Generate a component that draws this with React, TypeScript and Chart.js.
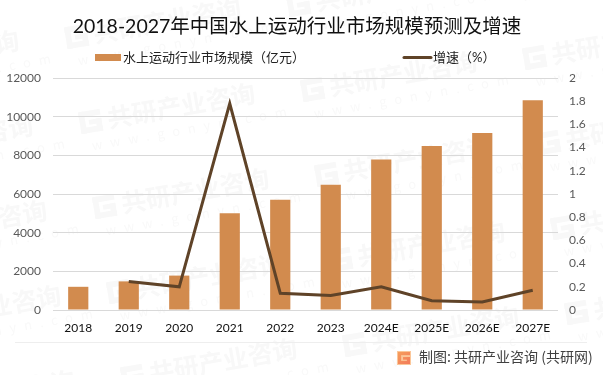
import React, { useEffect, useRef } from "react";
import { Chart, registerables } from "chart.js";

Chart.register(...registerables);

const TITLE = "2018-2027年中国水上运动行业市场规模预测及增速";
const SOURCE = "制图: 共研产业咨询 (共研网)";
const categories = ["2018", "2019", "2020", "2021", "2022", "2023", "2024E", "2025E", "2026E", "2027E"];
const marketSize = [1200, 1480, 1780, 5000, 5700, 6480, 7780, 8480, 9150, 10850];
const growth = [null, 0.245, 0.2, 1.78, 0.145, 0.125, 0.2, 0.08, 0.07, 0.17];
const FONT = "Lato, 'Noto Sans CJK SC', sans-serif";
const CJK = "'Noto Sans CJK SC', sans-serif";
const BAR = "#D28B4E";
const LINE = "#5F4328";

function logoPath(ctx: CanvasRenderingContext2D, x: number, y: number, s: number, color: string | CanvasGradient) {
  ctx.fillStyle = color;
  ctx.fillRect(x, y, s, s * 0.26);
  ctx.fillRect(x, y, s * 0.26, s);
  ctx.fillRect(x, y + s * 0.74, s, s * 0.26);
  ctx.fillRect(x + s * 0.74, y + s * 0.42, s * 0.26, s * 0.58);
  ctx.fillRect(x + s * 0.42, y + s * 0.42, s * 0.58, s * 0.22);
}

const decor = {
  id: "decor",
  beforeDraw(chart: any) {
    const ctx: CanvasRenderingContext2D = chart.ctx;
    ctx.save();
    ctx.fillStyle = "#fff";
    ctx.fillRect(0, 0, chart.width, chart.height);
    for (let i = -3; i <= 5; i++) {
      for (let j = -2; j <= 3; j++) {
        const cx = 168 + i * 14 + j * 222;
        const cy = 117 + i * 85 - j * 32;
        if (cx < -120 || cx > 720 || cy < -50 || cy > 420) continue;
        ctx.save();
        ctx.translate(cx, cy);
        ctx.rotate((-10 * Math.PI) / 180);
        logoPath(ctx, -88, -20, 22, "#f8f8f8");
        ctx.fillStyle = "#f8f8f8";
        ctx.font = `bold 25px ${CJK}`;
        ctx.textAlign = "left";
        ctx.textBaseline = "middle";
        ctx.fillText("共研产业咨询", -60, -9);
        ctx.font = `13px ${CJK}`;
        ctx.fillStyle = "#f9f9f9";
        (ctx as any).letterSpacing = "8px";
        ctx.fillText("www.gonyn.com", -80, 15);
        (ctx as any).letterSpacing = "0px";
        ctx.restore();
      }
    }
    ctx.restore();
  },
  afterDraw(chart: any) {
    const ctx: CanvasRenderingContext2D = chart.ctx;
    const sets = chart.data.datasets;
    ctx.save();
    // legend
    ctx.textAlign = "left";
    ctx.textBaseline = "middle";
    ctx.font = `13px ${FONT}`;
    ctx.fillStyle = "#222222";
    ctx.fillText(sets[0].label, 123, 58);
    ctx.fillText(sets[1].label, 433, 58);
    ctx.fillStyle = BAR;
    ctx.fillRect(95, 54, 26, 7);
    ctx.strokeStyle = LINE;
    ctx.lineWidth = 3;
    ctx.lineCap = "round";
    ctx.beginPath();
    ctx.moveTo(404, 57.5);
    ctx.lineTo(431, 57.5);
    ctx.stroke();
    // footer
    ctx.lineCap = "butt";
    ctx.strokeStyle = "#eeeeee";
    ctx.lineWidth = 1;
    ctx.beginPath();
    ctx.moveTo(15, 342.5);
    ctx.lineTo(587, 342.5);
    ctx.stroke();
    const g = ctx.createLinearGradient(397, 350, 410, 365);
    g.addColorStop(0, "#f7a35c");
    g.addColorStop(1, "#f2785a");
    ctx.fillStyle = "#fbc79a";
    ctx.fillRect(397, 351, 14, 14);
    logoPath(ctx, 398, 352, 12, g);
    ctx.fillStyle = "#404040";
    ctx.font = `14px ${CJK}`;
    ctx.fillText(SOURCE, 419, 357);
    ctx.restore();
  },
};

export default function App() {
  const ref = useRef<HTMLCanvasElement>(null);
  useEffect(() => {
    document.body.style.margin = "0";
    const chart = new Chart(ref.current!, {
      type: "bar",
      data: {
        labels: categories,
        datasets: [
          {
            type: "bar",
            label: "水上运动行业市场规模（亿元）",
            data: marketSize,
            backgroundColor: BAR,
            yAxisID: "y",
            barPercentage: 0.4,
            categoryPercentage: 1,
            order: 2,
          },
          {
            type: "line",
            label: "增速（%）",
            data: growth as any,
            borderColor: LINE,
            backgroundColor: LINE,
            borderWidth: 3,
            pointRadius: 0,
            tension: 0,
            yAxisID: "y1",
            order: 1,
          },
        ],
      },
      options: {
        responsive: false,
        animation: false,
        layout: { padding: { right: 9 } },
        plugins: {
          title: {
            display: true,
            text: TITLE,
            color: "#111111",
            font: { family: FONT, size: 19.5, weight: "normal" },
            padding: { top: 15, bottom: 39.6 },
          },
          legend: { display: false },
          tooltip: { enabled: false },
        },
        scales: {
          x: {
            grid: { display: false, drawTicks: false },
            border: { display: false },
            ticks: { color: "#111111", padding: 11, font: { family: FONT, size: 12 }, maxRotation: 0 },
            afterFit: (s: any) => { s.height = 65; },
          },
          y: {
            min: 0,
            max: 12000,
            position: "left",
            ticks: {
              stepSize: 2000,
              color: "#595959",
              padding: 12,
              font: { family: FONT, size: 12 },
              callback: (v: any) => String(v),
            },
            grid: { color: "#d9d9d9", drawTicks: false },
            border: { display: false },
            afterFit: (s: any) => { s.width = 53; },
          },
          y1: {
            min: 0,
            max: 2,
            position: "right",
            ticks: {
              stepSize: 0.2,
              color: "#595959",
              padding: 11,
              font: { family: FONT, size: 12 },
              callback: (v: any) => String(Math.round(v * 10) / 10),
            },
            grid: { display: false, drawTicks: false },
            border: { display: false },
            afterFit: (s: any) => { s.width = 36; },
          },
        },
      },
      plugins: [decor],
    } as any);
    return () => chart.destroy();
  }, []);
  return <canvas ref={ref} width={603} height={375} style={{ display: "block" }} />;
}
